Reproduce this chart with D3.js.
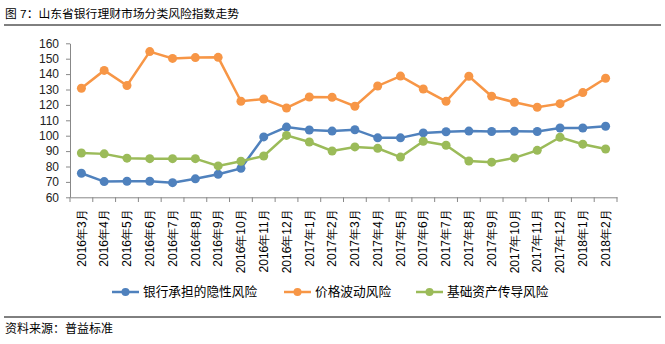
<!DOCTYPE html>
<html>
<head>
<meta charset="utf-8">
<script src="https://cdn.jsdelivr.net/npm/d3@7"></script>
<style>
  body { margin: 0; background: #fff; }
  svg { font-family: "Liberation Sans", "Noto Sans CJK SC", sans-serif; }
</style>
</head>
<body>
<svg id="chart" width="665" height="344"></svg>
<script>
const months = ["2016年3月","2016年4月","2016年5月","2016年6月","2016年7月","2016年8月","2016年9月",
  "2016年10月","2016年11月","2016年12月","2017年1月","2017年2月","2017年3月","2017年4月","2017年5月",
  "2017年6月","2017年7月","2017年8月","2017年9月","2017年10月","2017年11月","2017年12月","2018年1月","2018年2月"];

const bankRisk = [75.6, 70.2, 70.4, 70.4, 69.5, 72.0, 75.0, 78.8, 99.2, 105.6, 103.7, 103.0, 103.9,
  98.6, 98.6, 101.8, 102.6, 103.0, 102.7, 102.9, 102.7, 105.0, 105.0, 106.1];
const priceRisk = [130.8, 142.4, 132.6, 154.6, 150.2, 150.7, 150.9, 122.4, 123.8, 118.0, 125.1, 125.0, 119.1,
  132.3, 138.7, 130.3, 122.3, 138.6, 125.6, 121.7, 118.5, 120.8, 128.0, 137.3];
const assetRisk = [88.8, 88.2, 85.4, 85.1, 85.1, 85.1, 80.4, 83.4, 86.8, 100.2, 95.9, 90.1, 92.7,
  91.8, 86.1, 96.4, 93.8, 83.6, 82.8, 85.6, 90.5, 99.0, 94.5, 91.4];

const seriesNames = ["银行承担的隐性风险", "价格波动风险", "基础资产传导风险"];
const colors = ["#4F81BD", "#F79646", "#9BBB59"];
const yTicks = [60, 70, 80, 90, 100, 110, 120, 130, 140, 150, 160];

const svg = d3.select("#chart");

// Title
svg.append("text")
  .attr("x", 5).attr("y", 18)
  .style("font-size", "11.8px")
  .style("fill", "#000")
  .text("图 7：山东省银行理财市场分类风险指数走势");
svg.append("line")
  .attr("x1", 4).attr("x2", 661).attr("y1", 25).attr("y2", 25)
  .attr("stroke", "#000").attr("stroke-width", 1);

const x = d3.scaleBand().domain(months).range([70, 617]);
const y = d3.scaleLinear().domain([60, 160]).range([197.3, 43.3]);

// Y axis
const yAxis = svg.append("g")
  .attr("transform", "translate(70,0)")
  .call(d3.axisLeft(y).tickValues(yTicks).tickSize(4).tickSizeOuter(0));
yAxis.select(".domain").attr("stroke", "#888");
yAxis.selectAll(".tick line").attr("stroke", "#888");
yAxis.selectAll(".tick text")
  .attr("x", -11)
  .style("font-size", "12px")
  .style("fill", "#222");

// X axis
const xAxis = svg.append("g")
  .attr("transform", "translate(0,197.3)")
  .call(d3.axisBottom(x).tickSize(0).tickSizeOuter(0));
xAxis.select(".domain").attr("stroke", "#888");
xAxis.selectAll(".tick line").remove();
xAxis.selectAll(".tick text")
  .attr("transform", "rotate(-90)")
  .attr("x", -12).attr("y", 0).attr("dy", "0.35em")
  .attr("text-anchor", "end")
  .style("font-size", "12px")
  .style("fill", "#000");

// tick marks between categories
const boundaries = months.map((m) => x(m)).concat([x.range()[1]]);
svg.append("g").selectAll("line")
  .data(boundaries)
  .enter().append("line")
  .attr("x1", d => d).attr("x2", d => d)
  .attr("y1", 197.3).attr("y2", 202)
  .attr("stroke", "#888");

const cx = d => x(d) + x.bandwidth() / 2;
const allSeries = [bankRisk, priceRisk, assetRisk];

const line = d3.line()
  .x((d, i) => cx(months[i]))
  .y(d => y(d));

allSeries.forEach((vals, k) => {
  svg.append("path")
    .datum(vals)
    .attr("d", line)
    .attr("fill", "none")
    .attr("stroke", colors[k])
    .attr("stroke-width", 2.5);

  svg.append("g").selectAll("circle")
    .data(vals)
    .enter().append("circle")
    .attr("cx", (d, i) => cx(months[i]))
    .attr("cy", d => y(d))
    .attr("r", 4.5)
    .attr("fill", colors[k]);
});

// Legend
const legendX = [112, 284, 416];
const legend = svg.append("g");
seriesNames.forEach((name, k) => {
  const lg = legend.append("g").attr("transform", `translate(${legendX[k]},292)`);
  lg.append("line")
    .attr("x1", 0).attr("x2", 27).attr("y1", 0).attr("y2", 0)
    .attr("stroke", colors[k]).attr("stroke-width", 2.5);
  lg.append("circle")
    .attr("cx", 13.5).attr("cy", 0).attr("r", 4)
    .attr("fill", colors[k]);
  lg.append("text")
    .attr("x", 31).attr("y", 0).attr("dy", "0.35em")
    .style("font-size", "12.7px")
    .style("fill", "#000")
    .text(name);
});

// Source
svg.append("line")
  .attr("x1", 4).attr("x2", 661).attr("y1", 317).attr("y2", 317)
  .attr("stroke", "#000").attr("stroke-width", 1);
svg.append("text")
  .attr("x", 5).attr("y", 333)
  .style("font-size", "12px")
  .style("fill", "#000")
  .text("资料来源：普益标准");
</script>
</body>
</html>
